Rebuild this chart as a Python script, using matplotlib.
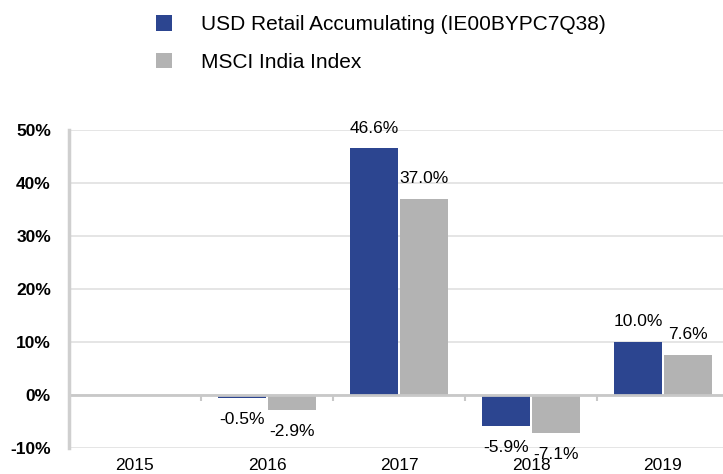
import numpy as np
import matplotlib.pyplot as plt

plt.rcParams['font.family'] = ['Liberation Sans', 'DejaVu Sans']

# Данные
years = ["2015", "2016", "2017", "2018", "2019"]
fund = [np.nan, -0.5, 46.6, -5.9, 10.0]
index = [np.nan, -2.9, 37.0, -7.1, 7.6]
fund_name = "USD Retail Accumulating (IE00BYPC7Q38)"
index_name = "MSCI India Index"

blue = "#2c4590"
gray = "#b3b3b3"

fig = plt.figure(figsize=(7.23, 4.74), dpi=100)
ax = fig.add_axes([69 / 723, 26 / 474, 660 / 723, 318 / 474])

x = np.arange(len(years))
w = 0.36
b1 = ax.bar(x - 0.19, fund, w, color=blue, label=fund_name)
b2 = ax.bar(x + 0.19, index, w, color=gray, label=index_name)

# Подписи значений
for bars, vals in [(b1, fund), (b2, index)]:
    for rect, v in zip(bars, vals):
        if np.isnan(v):
            continue
        cx = rect.get_x() + rect.get_width() / 2
        if v >= 0:
            ax.annotate(f"{v:.1f}%", (cx, v), xytext=(0, 9), textcoords="offset points",
                        ha="center", va="bottom", fontsize=12.5)
        else:
            ax.annotate(f"{v:.1f}%", (cx, v), xytext=(0, -10), textcoords="offset points",
                        ha="center", va="top", fontsize=12.5)

ax.set_xlim(-0.5, len(years) - 0.5)
ax.set_ylim(-10, 50)
ax.set_yticks(np.arange(-10, 51, 10))
ax.set_yticklabels([f"{t}%" for t in range(-10, 51, 10)], fontweight="bold", fontsize=12.5)
ax.set_xticks(x)
ax.set_xticklabels(years, fontsize=12.5)
ax.tick_params(axis="both", length=0)
ax.tick_params(axis="y", pad=13)
ax.tick_params(axis="x", pad=7)

ax.grid(axis="y", color="#e3e3e3", linewidth=1.3)
ax.set_axisbelow(True)
ax.axhline(0, color="#c8c8c8", linewidth=2, zorder=1)

for s in ["top", "right", "bottom"]:
    ax.spines[s].set_visible(False)
ax.spines["left"].set_color("#cfcfcf")
ax.spines["left"].set_linewidth(2.5)

# Засечки между категориями на нулевой линии
sec = ax.secondary_xaxis(10 / 60)
sec.set_xticks(x[:-1] + 0.5)
sec.set_xticklabels([])
sec.tick_params(length=4, width=1.5, color="#c8c8c8")
sec.spines["bottom"].set_visible(False)

fig.legend(handles=[b1, b2], loc="upper left", bbox_to_anchor=(141 / 723, 1.0),
           frameon=False, fontsize=15, handlelength=0.8, handleheight=0.8,
           handletextpad=1.4, labelspacing=0.9, borderaxespad=0.3)

fig.savefig("out.png", dpi=100)
